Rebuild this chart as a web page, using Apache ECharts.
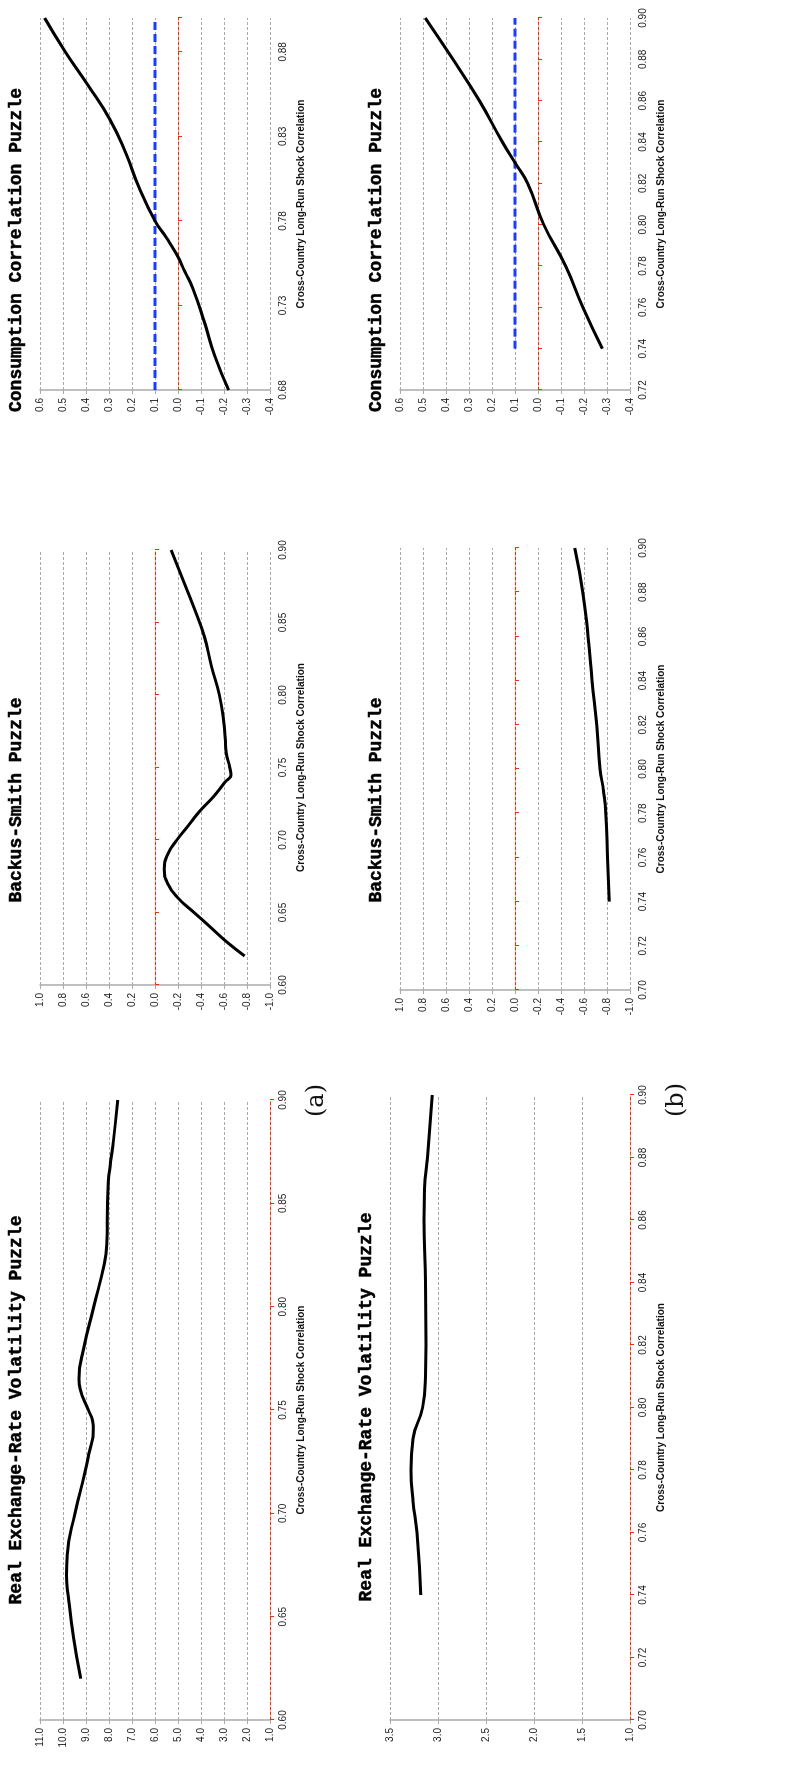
<!DOCTYPE html>
<html>
<head>
<meta charset="utf-8">
<script src="https://cdn.jsdelivr.net/npm/echarts@6/dist/echarts.min.js"></script>
<style>
html, body { margin: 0; padding: 0; background: #fff; overflow: hidden; }
#wrap { position: absolute; left: 0; top: 0; width: 795px; height: 1792px; }
#chart { position: absolute; left: 0; top: 0; width: 1792px; height: 795px;
  transform-origin: 0 0; transform: translateY(1792px) rotate(-90deg); }
</style>
</head>
<body>
<div id="wrap"><div id="chart"></div></div>
<script>
// (a) panel data
var rerA_x = [0.62, 0.64, 0.66, 0.67, 0.68, 0.70, 0.72, 0.73, 0.74, 0.745, 0.75, 0.76, 0.765, 0.78, 0.80, 0.82, 0.83, 0.85, 0.86, 0.87, 0.88, 0.90];
var rerA_y = [9.23, 9.54, 9.77, 9.85, 9.82, 9.48, 9.04, 8.85, 8.68, 8.72, 8.9, 9.25, 9.3, 9.1, 8.66, 8.22, 8.1, 8.06, 8.03, 7.93, 7.81, 7.62];
var bsA_x = [0.62, 0.63, 0.64, 0.65, 0.66, 0.67, 0.68, 0.69, 0.70, 0.71, 0.72, 0.73, 0.74, 0.745, 0.75, 0.76, 0.77, 0.78, 0.80, 0.82, 0.84, 0.86, 0.88, 0.90];
var bsA_y = [-0.78, -0.62, -0.48, -0.34, -0.20, -0.11, -0.08, -0.11, -0.19, -0.29, -0.39, -0.51, -0.61, -0.66, -0.65, -0.62, -0.61, -0.60, -0.56, -0.49, -0.43, -0.34, -0.24, -0.14];
var ccA_x = [0.68, 0.70, 0.72, 0.74, 0.75, 0.76, 0.77, 0.78, 0.80, 0.82, 0.84, 0.86, 0.88, 0.90];
var ccA_y = [-0.22, -0.16, -0.115, -0.065, -0.03, 0.005, 0.05, 0.10, 0.17, 0.227, 0.296, 0.39, 0.49, 0.58];
var ccA_target = [[0.68, 0.1], [0.90, 0.1]];
// (b) panel data
var rerB_x = [0.74, 0.76, 0.77, 0.78, 0.79, 0.80, 0.81, 0.82, 0.84, 0.86, 0.87, 0.88, 0.90];
var rerB_y = [3.18, 3.22, 3.26, 3.28, 3.26, 3.16, 3.13, 3.125, 3.13, 3.145, 3.14, 3.11, 3.06];
var bsB_x = [0.74, 0.76, 0.78, 0.79, 0.80, 0.82, 0.84, 0.86, 0.88, 0.90];
var bsB_y = [-0.82, -0.805, -0.79, -0.77, -0.74, -0.71, -0.67, -0.635, -0.59, -0.52];
var ccB_x = [0.74, 0.76, 0.78, 0.80, 0.82, 0.83, 0.84, 0.86, 0.88, 0.90];
var ccB_y = [-0.28, -0.195, -0.12, -0.025, 0.045, 0.10, 0.155, 0.255, 0.37, 0.49];
var ccB_target = [[0.74, 0.1], [0.90, 0.1]];

var titles = ['Real Exchange-Rate Volatility Puzzle', 'Backus-Smith Puzzle', 'Consumption Correlation Puzzle'];
var xName = 'Cross-Country Long-Run Shock Correlation';

function zip(xs, ys) { return xs.map(function (x, i) { return [x, ys[i]]; }); }

// panel specs: grid box, x range / interval, y range / interval
var panels = [
  { g: [72, 40, 620, 230], xmin: 0.60, xmax: 0.90, xi: 0.05, ymin: 1, ymax: 11, yi: 1, data: zip(rerA_x, rerA_y) },
  { g: [807, 40, 435, 230], xmin: 0.60, xmax: 0.90, xi: 0.05, ymin: -1, ymax: 1, yi: 0.2, data: zip(bsA_x, bsA_y) },
  { g: [1402, 40, 372, 230], xmin: 0.68, xmax: 0.90, xi: 0.05, ymin: -0.4, ymax: 0.6, yi: 0.1, data: zip(ccA_x, ccA_y), target: ccA_target },
  { g: [72, 390, 625, 240], xmin: 0.70, xmax: 0.90, xi: 0.02, ymin: 1, ymax: 3.5, yi: 0.5, data: zip(rerB_x, rerB_y) },
  { g: [802, 400, 442, 230], xmin: 0.70, xmax: 0.90, xi: 0.02, ymin: -1, ymax: 1, yi: 0.2, data: zip(bsB_x, bsB_y) },
  { g: [1402, 400, 372, 230], xmin: 0.72, xmax: 0.90, xi: 0.02, ymin: -0.4, ymax: 0.6, yi: 0.1, data: zip(ccB_x, ccB_y), target: ccB_target }
];
var titleX = [382, 992, 1542, 385, 992, 1542];

var grid = [], xAxis = [], yAxis = [], series = [], graphic = [];
var lbl = { fontFamily: 'Liberation Sans', fontSize: 10, color: '#222' };
panels.forEach(function (p, i) {
  grid.push({ left: p.g[0], top: p.g[1], width: p.g[2], height: p.g[3] });
  graphic.push({
    type: 'text', x: titleX[i], y: p.g[1] - 24,
    style: { text: titles[i % 3], align: 'center', verticalAlign: 'middle',
      font: 'bold 18px "Liberation Mono"', fill: '#000', stroke: '#000', lineWidth: 0.5 }
  });
  // red axis line at zero (or bottom) with ticks
  xAxis.push({
    type: 'value', gridIndex: i, min: p.xmin, max: p.xmax, interval: p.xi,
    axisLine: { onZero: true, lineStyle: { color: '#ff2a00', type: [3, 2], width: 1 } },
    axisTick: { show: true, length: 4, lineStyle: { color: '#ff2a00' } },
    axisLabel: { show: false }, splitLine: { show: false }
  });
  // label axis at bottom
  xAxis.push({
    type: 'value', gridIndex: i, min: p.xmin, max: p.xmax, interval: p.xi, position: 'bottom',
    axisLine: { show: false, onZero: false }, axisTick: { show: false }, splitLine: { show: false },
    axisLabel: Object.assign({ margin: 8, showMaxLabel: p.xmin === 0.68 ? false : true,
      formatter: function (v) { return v.toFixed(2); } }, lbl),
    name: xName, nameLocation: 'middle', nameGap: 26,
    nameTextStyle: { fontFamily: 'Liberation Sans', fontSize: 10, fontWeight: 'bold', color: '#111' }
  });
  yAxis.push({
    type: 'value', gridIndex: i, min: p.ymin, max: p.ymax, interval: p.yi,
    axisLine: { show: true, lineStyle: { color: '#aaa', width: 1.5 } },
    axisTick: { show: true, length: 4, lineStyle: { color: '#aaa' } },
    axisLabel: Object.assign({ margin: 8, formatter: function (v) { return v.toFixed(1); } }, lbl),
    splitLine: { show: true, lineStyle: { color: '#aaa', type: [3, 2], width: 1 } }
  });
  if (p.target) {
    series.push({
      type: 'line', xAxisIndex: 2 * i, yAxisIndex: i, data: p.target, symbol: 'none',
      lineStyle: { color: '#1a3cff', width: 3, type: [8, 4] }, z: 3
    });
  }
  series.push({
    type: 'line', xAxisIndex: 2 * i, yAxisIndex: i, data: p.data, symbol: 'none', smooth: 0.5,
    lineStyle: { color: '#000', width: 3 }, z: 4
  });
});

graphic.push(
  { type: 'text', x: 675, y: 305, style: { text: '(a)', font: '24px "DejaVu Serif"', fill: '#111' } },
  { type: 'text', x: 675, y: 665, style: { text: '(b)', font: '24px "DejaVu Serif"', fill: '#111' } }
);

var chart = echarts.init(document.getElementById('chart'), null, { renderer: 'canvas' });
chart.setOption({
  animation: false,
  grid: grid, xAxis: xAxis, yAxis: yAxis, series: series,
  graphic: graphic
});
</script>
</body>
</html>
